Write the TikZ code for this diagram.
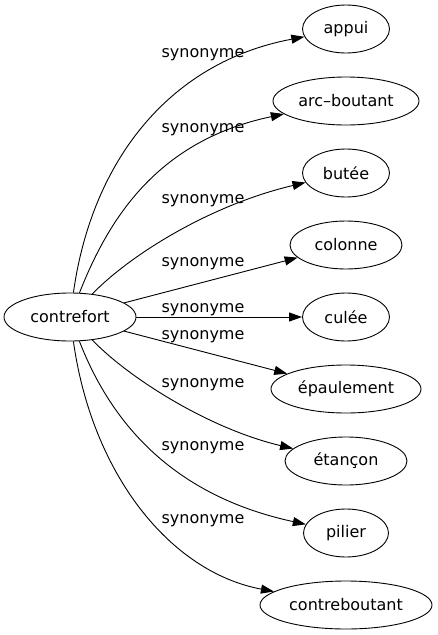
\documentclass[tikz,border=0pt]{standalone}
\usepackage{fontspec}
\setmainfont{DejaVu Sans}
\usetikzlibrary{shapes.geometric,arrows.meta}

\begin{document}
\begin{tikzpicture}%
	[x={(1pt, 0pt)},
	y={(0pt, -1pt)},
	font=\fontsize{16}{19}\selectfont,
	vertex/.style={ellipse,draw=black,line width=0.9pt,minimum height=48pt,inner sep=0pt},
	edge/.style={color=black,line width=0.9pt,-{Triangle[length=13pt,width=9pt]}},
	edgetext/.style={inner sep=0pt,anchor=base}]
%
\useasboundingbox (0,0) rectangle (437,635);
%%
%%
%% Drawing the vertices
%%
\node[vertex,minimum width=132pt] (contrefort) at (70,317) {contrefort};
\node[vertex,minimum width=87pt] (appui) at (346,29) {appui};
\node[vertex,minimum width=146pt] (arcboutant) at (346,101) {arc–boutant};
\node[vertex,minimum width=87pt] (butee) at (346,173) {butée};
\node[vertex,minimum width=112pt] (colonne) at (346,245) {colonne};
\node[vertex,minimum width=87pt] (culee) at (346,317) {culée};
\node[vertex,minimum width=150pt] (epaulement) at (346,389) {épaulement};
\node[vertex,minimum width=122pt] (etancon) at (346,461) {étançon};
\node[vertex,minimum width=85pt] (pilier) at (346,533) {pilier};
\node[vertex,minimum width=172pt] (contreboutant) at (346,605) {contreboutant};
%%
%%
%% Drawing the edges
%%
\draw[edge] (contrefort) .. controls (92,160) and (170,62) .. (appui);
\draw[edge] (contrefort) .. controls (110,215) and (160,140) .. (arcboutant);
\draw[edge] (contrefort) .. controls (130,255) and (210,205) .. (butee);
\draw[edge] (contrefort) -- (colonne);
\draw[edge] (contrefort) -- (culee);
\draw[edge] (contrefort) -- (epaulement);
\draw[edge] (contrefort) .. controls (130,379) and (210,429) .. (etancon);
\draw[edge] (contrefort) .. controls (110,420) and (170,495) .. (pilier);
\draw[edge] (contrefort) .. controls (92,474) and (170,572) .. (contreboutant);
%%
%%
%% Drawing the edge texts
%%
\node[edgetext] (t-appui) at (203,57) {synonyme};
\node[edgetext] (t-arcboutant) at (203,132) {synonyme};
\node[edgetext] (t-butee) at (203,203) {synonyme};
\node[edgetext] (t-colonne) at (203,266) {synonyme};
\node[edgetext] (t-culee) at (203,312) {synonyme};
\node[edgetext] (t-epaulement) at (203,339) {synonyme};
\node[edgetext] (t-etancon) at (203,387) {synonyme};
\node[edgetext] (t-pilier) at (203,450) {synonyme};
\node[edgetext] (t-contreboutant) at (203,523) {synonyme};

\end{tikzpicture}
\end{document}
